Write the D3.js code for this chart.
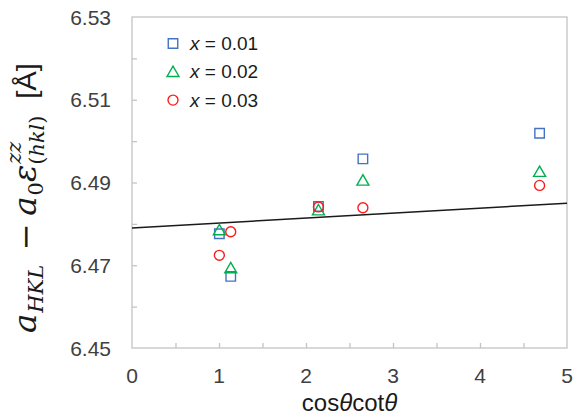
<!DOCTYPE html>
<html>
<head>
<meta charset="utf-8">
<script src="https://cdn.jsdelivr.net/npm/d3@7"></script>
<style>
  html, body { margin: 0; padding: 0; background: #fff; }
  svg { display: block; }
</style>
</head>
<body>
<svg id="chart" width="584" height="418"></svg>
<script>
// cos(theta)cot(theta) for each reflection
const xValues = [1.004, 1.135, 2.143, 2.654, 4.685];

// Lattice parameter corrected for strain, per composition
const seriesNames = ["x = 0.01", "x = 0.02", "x = 0.03"];
const seriesX001 = [6.4776, 6.4673, 6.4842, 6.4957, 6.5019];
const seriesX002 = [6.4785, 6.4693, 6.4833, 6.4905, 6.4926];
const seriesX003 = [6.4724, 6.4781, 6.4841, 6.4839, 6.4893];

// Linear fit drawn across the axis
const fitX = [0, 5];
const fitY = [6.4790, 6.4850];

// Axis ticks
const xTickLabels = [0, 1, 2, 3, 4, 5];
const xMinorTicks = [0.5, 1, 1.5, 2, 2.5, 3, 3.5, 4, 4.5];
const yTickLabels = [6.45, 6.47, 6.49, 6.51, 6.53];
const yMinorTicks = [6.46, 6.47, 6.48, 6.49, 6.50, 6.51, 6.52];

const svg = d3.select("#chart");
const margin = { left: 132, right: 17, top: 17, bottom: 70 };
const W = 584, H = 418;

const x = d3.scaleLinear().domain([0, 5]).range([margin.left, W - margin.right]);
const y = d3.scaleLinear().domain([6.45, 6.53]).range([H - margin.bottom, margin.top]);

const frameColor = "#c4c4c4";
const labelColor = "#404040";
const sans = "'Liberation Sans', Arial, sans-serif";
const serif = "'DejaVu Serif', 'Liberation Serif', serif";

// Plot frame
svg.append("rect")
  .attr("x", x(0)).attr("y", y(6.53))
  .attr("width", x(5) - x(0)).attr("height", y(6.45) - y(6.53))
  .attr("fill", "none").attr("stroke", frameColor).attr("stroke-width", 1.3);

// Bottom axis: inward ticks, labels
const xAxis = d3.axisBottom(x).tickValues(xMinorTicks).tickSize(-5).tickFormat("");
const gx = svg.append("g").attr("transform", `translate(0,${y(6.45)})`).call(xAxis);
gx.select(".domain").remove();
gx.selectAll("line").attr("stroke", frameColor).attr("stroke-width", 1.3);

svg.append("g").selectAll("text").data(xTickLabels).join("text")
  .attr("x", d => x(d)).attr("y", 383)
  .attr("text-anchor", "middle")
  .attr("font-family", sans).attr("font-size", 21).attr("fill", labelColor)
  .text(d => d);

// Left axis: inward ticks, labels
const yAxis = d3.axisLeft(y).tickValues(yMinorTicks).tickSize(-5).tickFormat("");
const gy = svg.append("g").attr("transform", `translate(${x(0)},0)`).call(yAxis);
gy.select(".domain").remove();
gy.selectAll("line").attr("stroke", frameColor).attr("stroke-width", 1.3);

svg.append("g").selectAll("text").data(yTickLabels).join("text")
  .attr("x", 111).attr("y", d => y(d) + 7.5)
  .attr("text-anchor", "end")
  .attr("font-family", sans).attr("font-size", 21).attr("fill", labelColor)
  .text(d => d3.format(".2f")(d));

// Fit line
svg.append("path")
  .datum(fitX.map((d, i) => [d, fitY[i]]))
  .attr("d", d3.line().x(d => x(d[0])).y(d => y(d[1])))
  .attr("fill", "none").attr("stroke", "#1a1a1a").attr("stroke-width", 1.4);

// Markers
const symbols = [d3.symbolSquare, d3.symbolTriangle, d3.symbolCircle];
const symbolSizes = [90, 62, 78];
const colors = ["#4472c4", "#00b050", "#ff1a1a"];
const seriesData = [seriesX001, seriesX002, seriesX003];

function drawMarker(g, i, cx, cy) {
  const yOff = i === 1 ? 1.2 : 0;
  g.append("path")
    .attr("d", d3.symbol().type(symbols[i]).size(symbolSizes[i])())
    .attr("transform", `translate(${cx},${cy + yOff})`)
    .attr("fill", "none").attr("stroke", colors[i]).attr("stroke-width", 1.4);
}

const markers = svg.append("g");
seriesData.forEach((vals, i) => {
  vals.forEach((v, j) => drawMarker(markers, i, x(xValues[j]), y(v)));
});

// Legend
const legend = svg.append("g");
seriesNames.forEach((name, i) => {
  const ly = 43.5 + i * 28.3;
  drawMarker(legend, i, 173, ly);
  const t = legend.append("text")
    .attr("x", 190).attr("y", ly + 6.5)
    .attr("font-family", sans).attr("font-size", 19).attr("fill", "#1a1a1a");
  const parts = name.split(" ");
  t.append("tspan").attr("font-style", "italic").text(parts[0]);
  t.append("tspan").text(" " + parts.slice(1).join(" "));
});

// X axis title
const xt = svg.append("text")
  .attr("x", (x(0) + x(5)) / 2).attr("y", 411)
  .attr("text-anchor", "middle")
  .attr("font-family", sans).attr("font-size", 24).attr("fill", "#1a1a1a");
xt.append("tspan").text("cos");
xt.append("tspan").attr("font-style", "italic").text("θ");
xt.append("tspan").text("cot");
xt.append("tspan").attr("font-style", "italic").text("θ");

// Y axis title: a_HKL − a_0 ε^zz_(hkl) [Å], laid out piece by piece
const yt = svg.append("g");
const pieces = [
  { t: "a", size: 31, italic: true, dy: 0 },
  { t: "HKL", size: 20, italic: true, dy: 7, gap: 1 },
  { t: "−", size: 31, italic: false, dy: 0, gap: 14, after: 7 },
  { t: "a", size: 31, italic: true, dy: 0 },
  { t: "0", size: 20, italic: false, dy: 7, gap: 1 },
  { t: "ε", size: 31, italic: true, dy: 0 },
  { stack: true, sup: "zz", sub: "(hkl)", size: 20 },
  { t: "[Å]", size: 28, italic: false, dy: 0, family: sans, gap: 16 }
];
let cursor = 0;
pieces.forEach(p => {
  cursor += p.gap || 0;
  if (p.stack) {
    const s1 = yt.append("text").attr("x", cursor + 1).attr("y", -15)
      .attr("font-family", serif).attr("font-style", "italic")
      .attr("font-size", p.size).attr("fill", "#1a1a1a").text(p.sup);
    const s2 = yt.append("text").attr("x", cursor).attr("y", 8)
      .attr("font-family", serif).attr("font-size", p.size).attr("fill", "#1a1a1a");
    s2.append("tspan").text("(");
    s2.append("tspan").attr("font-style", "italic").text("hkl");
    s2.append("tspan").text(")");
    cursor += Math.max(s1.node().getComputedTextLength(), s2.node().getComputedTextLength());
  } else {
    const el = yt.append("text").attr("x", cursor).attr("y", p.dy)
      .attr("font-family", p.family || serif)
      .attr("font-style", p.italic ? "italic" : "normal")
      .attr("font-size", p.size).attr("fill", "#1a1a1a")
      .text(p.t);
    cursor += el.node().getComputedTextLength() + (p.after || 0);
  }
});
// Fit the formula to the span beside the axis
const titleLength = 270;
const stretch = Math.min(1.12, titleLength / cursor);
const titleCenterY = 198;
yt.attr("transform",
  `translate(36,${titleCenterY}) rotate(-90) scale(${stretch},1) translate(${-cursor / 2},0)`);
</script>
</body>
</html>
